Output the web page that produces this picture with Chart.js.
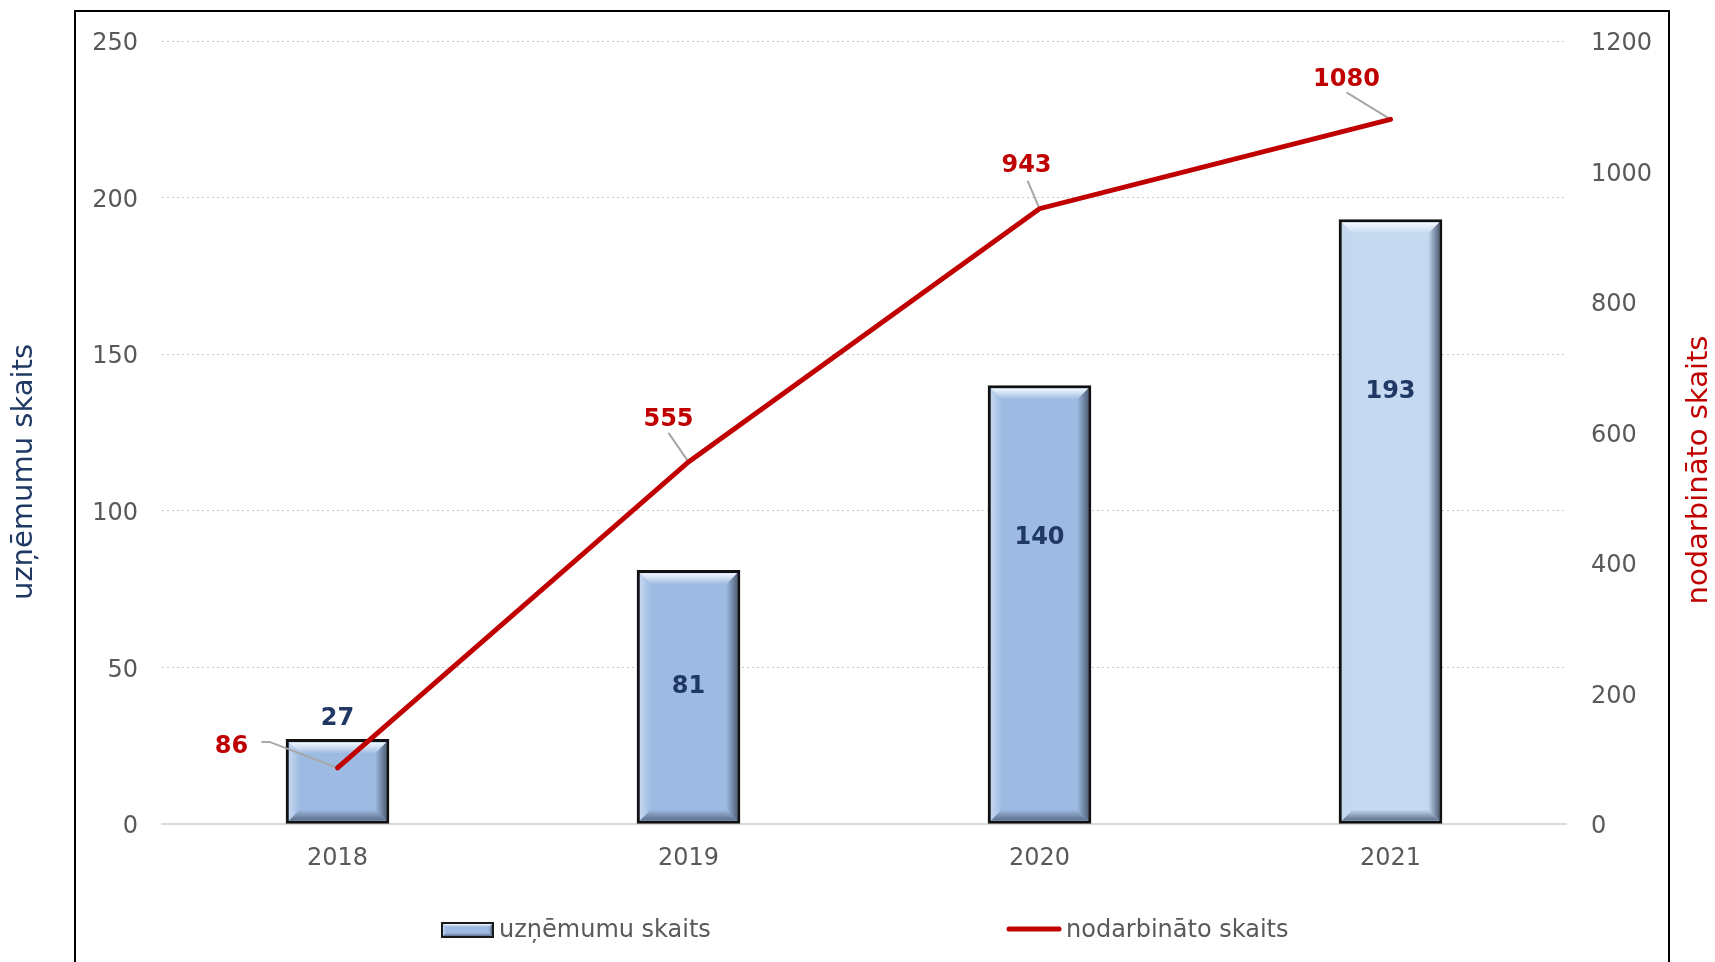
<!DOCTYPE html>
<html>
<head>
<meta charset="utf-8">
<script src="https://cdn.jsdelivr.net/npm/chart.js@4.4.1/dist/chart.umd.min.js"></script>
<style>
  body { margin: 0; background: #fff; }
</style>
</head>
<body>
<canvas id="chart" width="1715" height="962"></canvas>
<script>
// data
var years = ['2018', '2019', '2020', '2021']
var companies = [27, 81, 140, 193]
var employees = [86, 555, 943, 1080]
var companiesLabel = 'uzņēmumu skaits'
var employeesLabel = 'nodarbināto skaits'
var leftTicks = [0, 50, 100, 150, 200, 250]
var rightTicks = [0, 200, 400, 600, 800, 1000, 1200]

// styling
var FONT = 'DejaVu Sans'
var barColors = ['#9dbbe2', '#9dbbe2', '#9dbbe2', '#c5d9f1']
var barLabelOffset = [-21, 116, 152, 172]          // px from bar top
var lineLabelOffset = [[-106, -21], [-20, -42], [-13, -43], [-44, -40]]
var leaders = [
  [[-76, -26], [-68, -26], [0, 0]],
  [[-20, -29], [0, 0]],
  [[-12, -28], [0, 0]],
  [[-44, -27], [0, 0]]
]

function bevelRect(ctx, L, T, R, B, b, fill) {
  var g
  // left
  g = ctx.createLinearGradient(L, 0, L + b, 0)
  g.addColorStop(0, '#c4d7ef'); g.addColorStop(1, fill)
  ctx.fillStyle = g
  ctx.beginPath(); ctx.moveTo(L, T); ctx.lineTo(L + b, T + b); ctx.lineTo(L + b, B - b); ctx.lineTo(L, B); ctx.closePath(); ctx.fill()
  // right
  g = ctx.createLinearGradient(R - b, 0, R, 0)
  g.addColorStop(0, fill); g.addColorStop(1, '#56677f')
  ctx.fillStyle = g
  ctx.beginPath(); ctx.moveTo(R, T); ctx.lineTo(R - b, T + b); ctx.lineTo(R - b, B - b); ctx.lineTo(R, B); ctx.closePath(); ctx.fill()
  // top
  g = ctx.createLinearGradient(0, T, 0, T + b)
  g.addColorStop(0, '#f2f8fe'); g.addColorStop(1, fill)
  ctx.fillStyle = g
  ctx.beginPath(); ctx.moveTo(L, T); ctx.lineTo(R, T); ctx.lineTo(R - b, T + b); ctx.lineTo(L + b, T + b); ctx.closePath(); ctx.fill()
  // bottom
  g = ctx.createLinearGradient(0, B - b, 0, B)
  g.addColorStop(0, fill); g.addColorStop(1, '#5d708c')
  ctx.fillStyle = g
  ctx.beginPath(); ctx.moveTo(L, B); ctx.lineTo(R, B); ctx.lineTo(R - b, B - b); ctx.lineTo(L + b, B - b); ctx.closePath(); ctx.fill()
}

var decorations = {
  id: 'decorations',
  afterDatasetDraw: function (chart, args) {
    if (args.index !== 0) return
    var ctx = chart.ctx
    ctx.save()
    args.meta.data.forEach(function (el, i) {
      var half = el.width / 2
      bevelRect(ctx, el.x - half + 3, el.y + 3, el.x + half - 3, el.base - 3, 11, barColors[i])
    })
    ctx.restore()
  },
  beforeDatasetDraw: function (chart, args) {
    if (args.index !== 1) return
    var ctx = chart.ctx
    ctx.save()
    ctx.strokeStyle = '#a6a6a6'
    ctx.lineWidth = 2
    args.meta.data.forEach(function (pt, i) {
      ctx.beginPath()
      leaders[i].forEach(function (p, j) {
        if (j === 0) ctx.moveTo(pt.x + p[0], pt.y + p[1])
        else ctx.lineTo(pt.x + p[0], pt.y + p[1])
      })
      ctx.stroke()
    })
    ctx.restore()
  },
  afterDraw: function (chart) {
    var ctx = chart.ctx
    ctx.save()
    ctx.textAlign = 'center'
    ctx.textBaseline = 'middle'

    // bar value labels
    ctx.font = 'bold 24px "' + FONT + '"'
    ctx.fillStyle = '#1f3864'
    chart.getDatasetMeta(0).data.forEach(function (el, i) {
      ctx.fillText(String(companies[i]), el.x, el.y + barLabelOffset[i])
    })

    // line value labels
    ctx.fillStyle = '#c00000'
    chart.getDatasetMeta(1).data.forEach(function (pt, i) {
      ctx.fillText(String(employees[i]), pt.x + lineLabelOffset[i][0], pt.y + lineLabelOffset[i][1])
    })

    // axis titles
    ctx.font = '29px "' + FONT + '"'
    ctx.save()
    ctx.translate(24, 472)
    ctx.rotate(-Math.PI / 2)
    ctx.fillStyle = '#1f3864'
    ctx.fillText(companiesLabel, 0, 0)
    ctx.restore()
    ctx.save()
    ctx.translate(1699, 470)
    ctx.rotate(-Math.PI / 2)
    ctx.fillStyle = '#c00000'
    ctx.fillText(employeesLabel, 0, 0)
    ctx.restore()

    // legend
    ctx.textAlign = 'left'
    ctx.font = '24px "' + FONT + '"'
    var ly = 931
    ctx.fillStyle = '#1a1a1a'
    ctx.fillRect(441, 922, 53, 16)
    ctx.fillStyle = '#9dbbe2'
    ctx.fillRect(443, 924, 49, 12)
    bevelRect(ctx, 443, 924, 492, 936, 3, '#9dbbe2')
    ctx.fillStyle = '#595959'
    ctx.fillText(chart.data.datasets[0].label, 499, ly)
    ctx.strokeStyle = '#c00000'
    ctx.lineWidth = 5
    ctx.lineCap = 'round'
    ctx.beginPath(); ctx.moveTo(1009, 929); ctx.lineTo(1059, 929); ctx.stroke()
    ctx.fillText(chart.data.datasets[1].label, 1066, ly)

    // frame
    ctx.strokeStyle = '#000'
    ctx.lineWidth = 2
    ctx.strokeRect(75, 11, 1594, 1000)
    ctx.restore()
  }
}

function plain(v) { return String(v) }

new Chart(document.getElementById('chart').getContext('2d'), {
  data: {
    labels: years,
    datasets: [{
      type: 'bar',
      label: companiesLabel,
      data: companies,
      yAxisID: 'y',
      order: 1,
      backgroundColor: barColors,
      borderColor: '#111',
      borderWidth: 3,
      borderSkipped: false,
      barThickness: 103
    }, {
      type: 'line',
      label: employeesLabel,
      data: employees,
      yAxisID: 'y1',
      order: 0,
      borderColor: '#c00000',
      borderWidth: 5,
      borderCapStyle: 'round',
      pointRadius: 0,
      tension: 0
    }]
  },
  options: {
    responsive: false,
    animation: false,
    layout: { padding: { top: 41, left: 0, right: 0, bottom: 0 } },
    plugins: { legend: { display: false }, tooltip: { enabled: false } },
    scales: {
      x: {
        grid: { display: false },
        border: { display: true, color: '#d9d9d9', width: 2 },
        ticks: { color: '#595959', font: { family: FONT, size: 24 }, padding: 12 },
        afterFit: function (s) { s.height = 138 }
      },
      y: {
        position: 'left',
        min: 0,
        max: 250,
        afterBuildTicks: function (s) { s.ticks = leftTicks.map(function (v) { return {value: v} }) },
        grid: { color: '#c8c8c8', lineWidth: 1, drawTicks: false },
        border: { display: false, dash: [2, 3] },
        ticks: { color: '#595959', font: { family: FONT, size: 24 }, padding: 24, labelOffset: 3, callback: plain },
        afterFit: function (s) { s.width = 162 }
      },
      y1: {
        position: 'right',
        min: 0,
        max: 1200,
        afterBuildTicks: function (s) { s.ticks = rightTicks.map(function (v) { return {value: v} }) },
        grid: { display: false, drawTicks: false },
        border: { display: false },
        ticks: { color: '#595959', font: { family: FONT, size: 24 }, padding: 25, labelOffset: 3, callback: plain },
        afterFit: function (s) { s.width = 149 }
      }
    }
  },
  plugins: [decorations]
})
</script>
</body>
</html>
